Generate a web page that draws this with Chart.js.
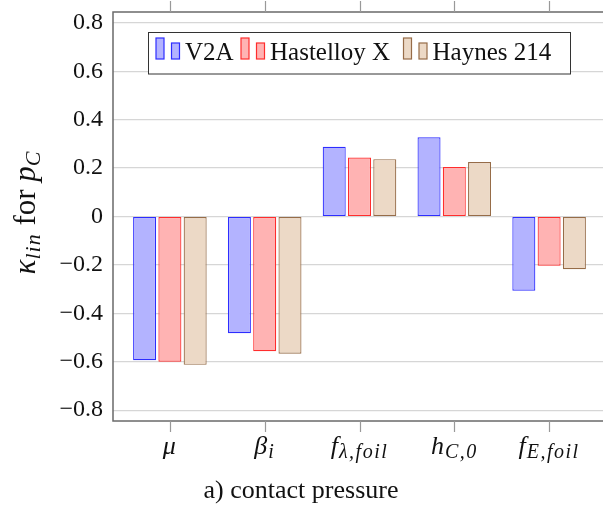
<!DOCTYPE html>
<html>
<head>
<meta charset="utf-8">
<script src="https://cdn.jsdelivr.net/npm/chart.js@4/dist/chart.umd.min.js"></script>
<style>
html, body { margin: 0; padding: 0; background: #fff; overflow: hidden; }
canvas { display: block; }
</style>
</head>
<body>
<canvas id="chart" width="610" height="510"></canvas>
<script>
// categories (base symbol + subscript), series, ticks
var catBase = ['μ', 'β', 'f', 'h', 'f'];
var catSub = ['', 'i', 'λ,foil', 'C,0', 'E,foil'];
var seriesNames = ['V2A', 'Hastelloy X', 'Haynes 214'];
var v2a = [-0.594, -0.482, 0.288, 0.327, -0.307];
var hastelloy = [-0.600, -0.557, 0.244, 0.205, -0.203];
var haynes = [-0.613, -0.567, 0.237, 0.225, -0.218];
var yTicks = [-0.8, -0.6, -0.4, -0.2, 0, 0.2, 0.4, 0.6, 0.8];

var fills = ['rgb(179,179,255)', 'rgb(255,179,179)', 'rgb(236,217,198)'];
var strokes = ['rgb(45,45,255)', 'rgb(255,45,45)', 'rgb(150,108,72)'];
var SERIF = 'Liberation Serif';
Chart.defaults.font.family = SERIF;

function toPoints(arr) {
	return arr.map(function(v, i) { return {x: i, y: v}; });
}

function setFont(ctx, r) {
	ctx.font = (r.italic ? 'italic ' : '') + r.size + 'px ' + SERIF;
	ctx.letterSpacing = (r.ls || 0) + 'px';
}

function runsWidth(ctx, runs) {
	var w = 0;
	runs.forEach(function(r) {
		setFont(ctx, r);
		w += ctx.measureText(r.t).width;
	});
	ctx.letterSpacing = '0px';
	return w;
}

function drawRuns(ctx, runs, x, y) {
	runs.forEach(function(r) {
		setFont(ctx, r);
		ctx.fillText(r.t, x, y + (r.dy || 0));
		x += ctx.measureText(r.t).width;
	});
	ctx.letterSpacing = '0px';
}

var decorations = {
	id: 'decorations',
	afterDatasetsDraw: function(chart) {
		var ctx = chart.ctx;
		var a = chart.chartArea;
		var xs = chart.scales.x;
		ctx.save();

		// frame
		ctx.strokeStyle = '#6a6a6a';
		ctx.lineWidth = 1.5;
		ctx.strokeRect(a.left, a.top, a.right - a.left, a.bottom - a.top);

		// x tick marks, top and bottom, outside
		ctx.strokeStyle = '#999';
		ctx.lineWidth = 1.2;
		for (var i = 0; i < catBase.length; i++) {
			var px = Math.round(xs.getPixelForValue(i)) + 0.5;
			ctx.beginPath();
			ctx.moveTo(px, a.bottom); ctx.lineTo(px, a.bottom + 11);
			ctx.moveTo(px, a.top); ctx.lineTo(px, a.top - 11);
			ctx.stroke();
		}

		// x category labels with subscripts
		ctx.fillStyle = '#111';
		ctx.textAlign = 'left';
		ctx.textBaseline = 'alphabetic';
		for (var j = 0; j < catBase.length; j++) {
			var runs = [{t: catBase[j], italic: true, size: 26, ls: 1}];
			if (catSub[j]) runs.push({t: catSub[j], italic: true, size: 20, dy: 4, ls: 1.5});
			var w = runsWidth(ctx, runs);
			drawRuns(ctx, runs, xs.getPixelForValue(j) - w / 2, 454);
		}

		// y axis title, rotated
		var tRuns = [
			{t: 'κ', italic: true, size: 31},
			{t: 'lin', italic: true, size: 22, dy: 5, ls: 1},
			{t: ' for ', italic: false, size: 31},
			{t: 'p', italic: true, size: 31},
			{t: 'C', italic: true, size: 22, dy: 5}
		];
		var tw = runsWidth(ctx, tRuns);
		ctx.save();
		ctx.translate(35, 213);
		ctx.rotate(-Math.PI / 2);
		drawRuns(ctx, tRuns, -tw / 2, 0);
		ctx.restore();

		// caption
		ctx.font = '26px ' + SERIF;
		ctx.textAlign = 'center';
		ctx.fillText('a) contact pressure', 301, 498);

		// legend box
		ctx.fillStyle = '#fff';
		ctx.fillRect(148.5, 32.5, 422, 41.5);
		ctx.strokeStyle = '#333';
		ctx.lineWidth = 1;
		ctx.strokeRect(148.5, 32.5, 422, 41.5);
		var itemX = [156, 241, 403.5];
		ctx.textAlign = 'left';
		ctx.font = '25px ' + SERIF;
		chart.data.datasets.forEach(function(ds, k) {
			var x0 = itemX[k];
			ctx.fillStyle = ds.backgroundColor;
			ctx.strokeStyle = ds.borderColor;
			ctx.lineWidth = 1.2;
			ctx.fillRect(x0, 38, 8, 21);
			ctx.strokeRect(x0, 38, 8, 21);
			ctx.fillRect(x0 + 15.5, 43, 8, 16);
			ctx.strokeRect(x0 + 15.5, 43, 8, 16);
			ctx.fillStyle = '#111';
			ctx.fillText(ds.label, x0 + 29, 60);
		});
		ctx.restore();
	}
};

var datasets = [v2a, hastelloy, haynes].map(function(arr, i) {
	return {
		label: seriesNames[i],
		data: toPoints(arr),
		backgroundColor: fills[i],
		borderColor: strokes[i],
		borderWidth: 1.2,
		borderSkipped: false,
		categoryPercentage: 0.8,
		barPercentage: 0.91
	};
});

new Chart(document.getElementById('chart').getContext('2d'), {
	type: 'bar',
	data: { datasets: datasets },
	options: {
		responsive: false,
		animation: false,
		layout: { padding: { left: 0, right: 4, top: 12, bottom: 0 } },
		plugins: { legend: { display: false }, tooltip: { enabled: false } },
		scales: {
			x: {
				type: 'linear',
				min: -0.6,
				max: 4.6,
				offset: false,
				afterBuildTicks: function(scale) {
					scale.ticks = catBase.map(function(c, i) { return {value: i}; });
				},
				grid: { display: false, drawTicks: false },
				border: { display: false },
				ticks: { display: false },
				afterFit: function(scale) { scale.height = 89; }
			},
			y: {
				min: -0.845,
				max: 0.845,
				afterBuildTicks: function(scale) {
					scale.ticks = yTicks.map(function(v) { return {value: v}; });
				},
				afterFit: function(scale) {
					scale.width = 113;
					scale.paddingTop = 0;
					scale.paddingBottom = 0;
				},
				grid: { color: '#d6d6d6', lineWidth: 1.2, drawTicks: false },
				border: { display: false },
				ticks: {
					padding: 10,
					color: '#111',
					font: { family: SERIF, size: 24, lineHeight: 1 },
					callback: function(v) {
						return (v < 0 ? '\u2212' : '') + Math.abs(v);
					}
				}
			}
		}
	},
	plugins: [decorations]
});
</script>
</body>
</html>
